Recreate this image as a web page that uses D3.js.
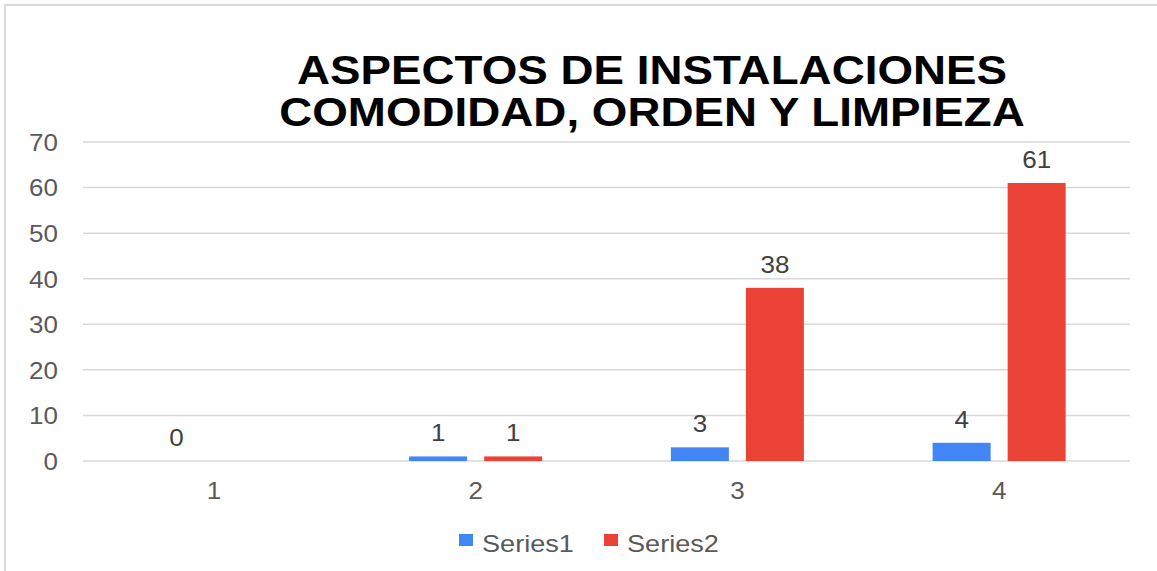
<!DOCTYPE html>
<meta charset="utf-8">
<style>
body { margin: 0; background: #fff; }
text { font-family: "Liberation Sans", Arial, sans-serif; }
.grid line { stroke: #d9d9d9; stroke-width: 1.5; }
</style>
<body>
<script src="https://d3js.org/d3.v7.min.js"></script>
<script>
// chart data
var categories = ["1", "2", "3", "4"];
var seriesNames = ["Series1", "Series2"];
var series1 = [0, 1, 3, 4];
var series2 = [null, 1, 38, 61];
var yTicks = [0, 10, 20, 30, 40, 50, 60, 70];
var titleLines = ["ASPECTOS DE INSTALACIONES", "COMODIDAD, ORDEN Y LIMPIEZA"];
var colors = ["#4285f4", "#ea4335"];

var W = 1157, H = 571;
var sx = 1.13; // the original is a bit stretched sideways

var svg = d3.select("body").append("svg")
    .attr("width", W)
    .attr("height", H);

// outer frame
svg.append("rect")
    .attr("x", 5).attr("y", 5)
    .attr("width", W + 10).attr("height", H + 10)
    .attr("fill", "none")
    .attr("stroke", "#d9d9d9")
    .attr("stroke-width", 2);

var x0 = d3.scaleBand().domain(categories).range([83, 1130]);
var x1 = d3.scaleBand().domain(seriesNames)
    .range([0, x0.bandwidth()])
    .paddingInner(0.227)
    .paddingOuter(0.858);
var y = d3.scaleLinear().domain([0, 70]).range([461, 142]);

function stretchedText(g, x, yy, txt) {
  return g.append("text")
      .attr("transform", "translate(" + x + "," + yy + ") scale(" + sx + ",1)")
      .text(txt);
}

// title
titleLines.forEach(function(t, i) {
  stretchedText(svg, 652, 84 + i * 42, t)
      .attr("text-anchor", "middle")
      .attr("font-size", 40.5)
      .attr("font-weight", "bold")
      .attr("fill", "#000");
});

// gridlines
svg.append("g").attr("class", "grid")
  .selectAll("line")
  .data(yTicks)
  .enter().append("line")
    .attr("x1", 83).attr("x2", 1130)
    .attr("y1", function(d) { return y(d); })
    .attr("y2", function(d) { return y(d); });

// y axis labels
var yAxis = d3.axisLeft(y).tickValues(yTicks).tickSize(0).tickPadding(0);
var yg = svg.append("g").attr("transform", "translate(58,0)").call(yAxis);
yg.select(".domain").remove();
yg.selectAll(".tick text")
    .attr("x", 0)
    .attr("dy", "0.36em")
    .attr("font-size", 23)
    .attr("fill", "#595959")
    .attr("transform", "scale(" + sx + ",1)")
    .style("font-family", "Liberation Sans, Arial, sans-serif");

// x axis labels
var xAxis = d3.axisBottom(x0).tickSize(0).tickPadding(0);
var xg = svg.append("g").attr("transform", "translate(0,491)").call(xAxis);
xg.select(".domain").remove();
xg.selectAll(".tick text")
    .attr("y", 0)
    .attr("dy", "0.36em")
    .attr("font-size", 23)
    .attr("fill", "#595959")
    .attr("transform", "scale(" + sx + ",1)")
    .style("font-family", "Liberation Sans, Arial, sans-serif");

// bars
var allSeries = [series1, series2];
var rows = [];
allSeries.forEach(function(vals, s) {
  vals.forEach(function(v, i) {
    if (v !== null) rows.push({cat: categories[i], s: seriesNames[s], c: colors[s], v: v});
  });
});

svg.selectAll(".bar")
  .data(rows)
  .enter().append("rect")
    .attr("class", "bar")
    .attr("x", function(d) { return x0(d.cat) + x1(d.s); })
    .attr("width", x1.bandwidth())
    .attr("y", function(d) { return y(d.v); })
    .attr("height", function(d) { return y(0) - y(d.v); })
    .attr("fill", function(d) { return d.c; });

// value labels
rows.forEach(function(d) {
  stretchedText(svg, x0(d.cat) + x1(d.s) + x1.bandwidth() / 2, y(d.v) - 15, d.v)
      .attr("text-anchor", "middle")
      .attr("font-size", 23)
      .attr("fill", "#404040");
});

// legend
var legend = [
  {name: seriesNames[0], c: colors[0], x: 459},
  {name: seriesNames[1], c: colors[1], x: 604}
];
legend.forEach(function(l) {
  svg.append("rect")
      .attr("x", l.x).attr("y", 534)
      .attr("width", 14).attr("height", 12)
      .attr("fill", l.c);
  stretchedText(svg, l.x + 23, 552, l.name)
      .attr("font-size", 24)
      .attr("fill", "#595959");
});
</script>
</body>
